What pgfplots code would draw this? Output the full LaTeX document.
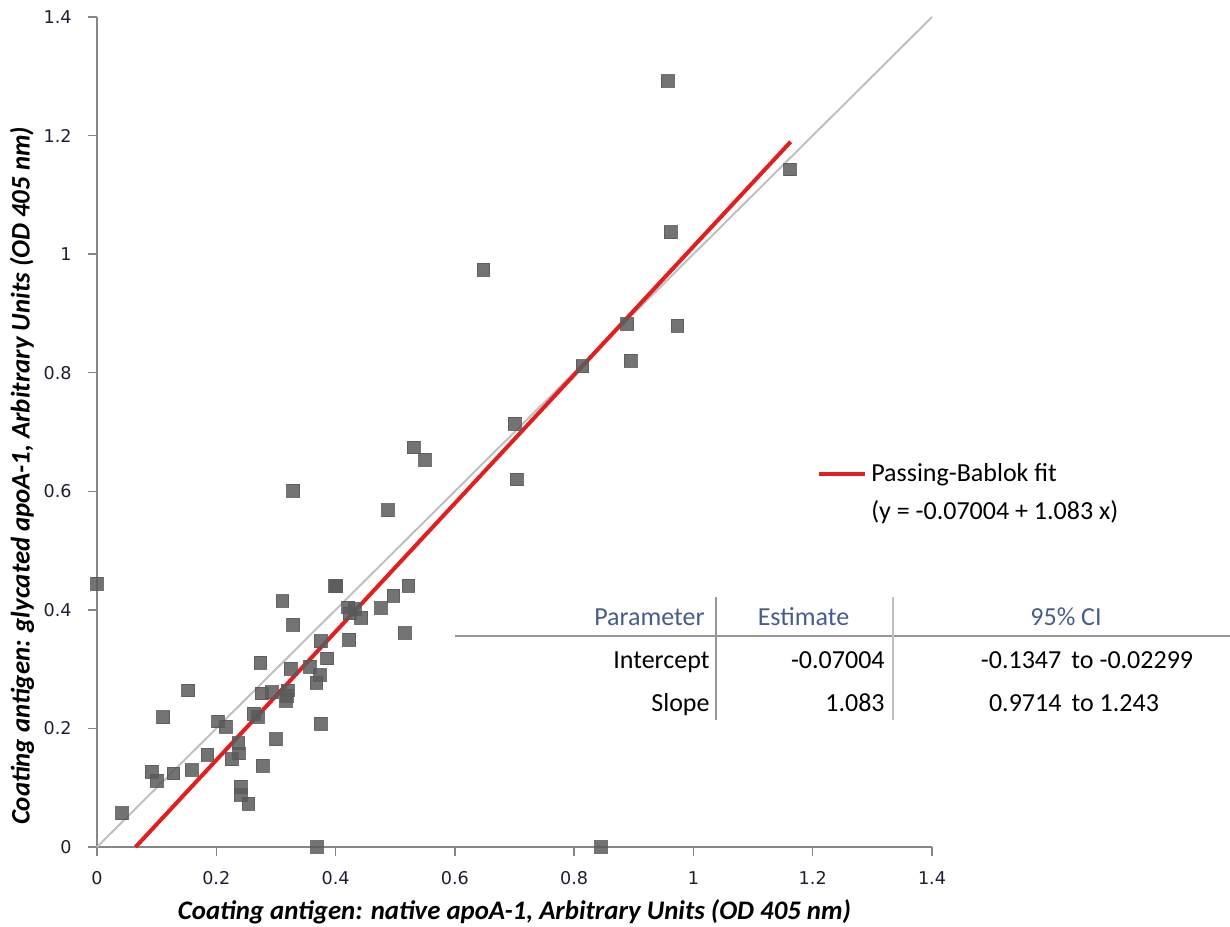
\documentclass[border=0pt]{standalone}
\usepackage{fontspec}
\setmainfont{Carlito}
\newfontfamily\dejavu{DejaVu Sans}
\usepackage{pgfplots}
\pgfplotsset{compat=1.18}
\definecolor{pts}{RGB}{90,90,90}
\definecolor{fitred}{RGB}{226,30,30}
\definecolor{idgray}{RGB}{192,192,192}
\definecolor{axgray}{RGB}{134,134,134}
\definecolor{hdrblue}{RGB}{70,92,140}
\definecolor{tabgray}{RGB}{150,150,150}
\definecolor{ticktext}{RGB}{30,30,50}
\pgfplotstableread{
x y
0.000 0.444
0.042 0.057
0.092 0.127
0.100 0.112
0.111 0.219
0.128 0.124
0.153 0.264
0.159 0.130
0.185 0.156
0.203 0.212
0.216 0.203
0.226 0.148
0.237 0.175
0.238 0.158
0.241 0.102
0.241 0.088
0.254 0.073
0.263 0.225
0.270 0.220
0.274 0.311
0.276 0.259
0.278 0.137
0.293 0.261
0.300 0.182
0.311 0.415
0.317 0.247
0.318 0.255
0.320 0.264
0.325 0.301
0.329 0.601
0.329 0.375
0.357 0.304
0.368 0.277
0.369 0.000
0.374 0.290
0.375 0.347
0.375 0.208
0.386 0.318
0.399 0.440
0.401 0.440
0.421 0.404
0.423 0.350
0.424 0.394
0.432 0.401
0.443 0.387
0.476 0.403
0.488 0.568
0.497 0.424
0.516 0.361
0.522 0.441
0.531 0.674
0.550 0.653
0.648 0.974
0.700 0.714
0.704 0.620
0.814 0.811
0.845 0.000
0.889 0.882
0.895 0.820
0.957 1.292
0.962 1.037
0.973 0.879
1.162 1.143
}\pts
\begin{document}
\begin{tikzpicture}
\useasboundingbox (-48.5pt,-39.5pt) rectangle (566.5pt,423.5pt);
\begin{axis}[
  at={(0,0)}, anchor=south west, scale only axis,
  width=417.5pt, height=415pt,
  xmin=0, xmax=1.4, ymin=0, ymax=1.4,
  clip=false,
  axis x line=bottom, axis y line=left,
  axis line style={-, draw=axgray, line width=0.75pt},
  xtick={0,0.2,0.4,0.6,0.8,1,1.2,1.4},
  ytick={0,0.2,0.4,0.6,0.8,1,1.2,1.4},
  tick align=outside, major tick length=4.5pt,
  tick style={draw=axgray, line width=0.75pt},
  /pgf/number format/assume math mode=true,
  xticklabel style={font=\dejavu\fontsize{8.8}{10}\selectfont, text=ticktext, inner sep=0pt, anchor=center, yshift=-11pt},
  yticklabel style={font=\dejavu\fontsize{8.8}{10}\selectfont, text=ticktext, inner sep=0pt, anchor=east, xshift=-8pt},
  xlabel={Coating antigen: native apoA-1, Arbitrary Units (OD 405 nm)},
  ylabel={Coating antigen: glycated apoA-1, Arbitrary Units (OD 405 nm)},
  xlabel style={at={(axis description cs:0.5,-0.0783)}, anchor=center, font=\bfseries\itshape\fontsize{13.4}{15}\selectfont},
  ylabel style={at={(axis description cs:-0.0898,0.447)}, anchor=center, font=\bfseries\itshape\fontsize{13.4}{15}\selectfont},
  legend style={draw=none, fill=none, at={(axis cs:1.197,0.661)}, anchor=north west,
    font=\fontsize{13}{15}\selectfont, row sep=4pt, column sep=0pt},
  legend cell align=left,
]
\addplot[idgray, line width=1pt, forget plot] coordinates {(0,0) (1.4,1.4)};
\addplot[fitred, line width=2pt, legend image code/.code={\draw[fitred, line width=2pt] (0pt,0pt) -- (23pt,0pt);}] coordinates {(0.0647,0) (1.163,1.1895)};
\addlegendentry{Passing-Bablok fit}
\addlegendimage{empty legend}
\addlegendentry{(y = -0.07004 + 1.083 x)}
\addplot[only marks, mark=square*, mark size=3.2pt, color=pts, opacity=0.85, forget plot] table[x=x, y=y] {\pts};
\end{axis}
\begin{scope}[x=0.5pt, y=-0.5pt, shift={(-48.5pt,423.5pt)}, font=\fontsize{13}{15}\selectfont, every node/.style={inner sep=0pt}]
\draw[tabgray, line width=1.2pt] (455,636) -- (1230,636);
\draw[tabgray, line width=0.9pt] (716,597) -- (716,720);
\draw[tabgray!60, line width=0.7pt] (893,597) -- (893,720);
\node[anchor=base east, text=hdrblue] at (705,626) {Parameter};
\node[anchor=base, text=hdrblue] at (803.5,626) {Estimate};
\node[anchor=base, text=hdrblue] at (1066,626) {95\% CI};
\node[anchor=base east] at (710,669) {Intercept};
\node[anchor=base east] at (885,669) {-0.07004};
\node[anchor=base] at (1087,669) {-0.1347\, to -0.02299};
\node[anchor=base east] at (710,711) {Slope};
\node[anchor=base east] at (885,711) {1.083};
\node[anchor=base] at (1074,711) {0.9714\, to 1.243};
\end{scope}
\end{tikzpicture}
\end{document}
